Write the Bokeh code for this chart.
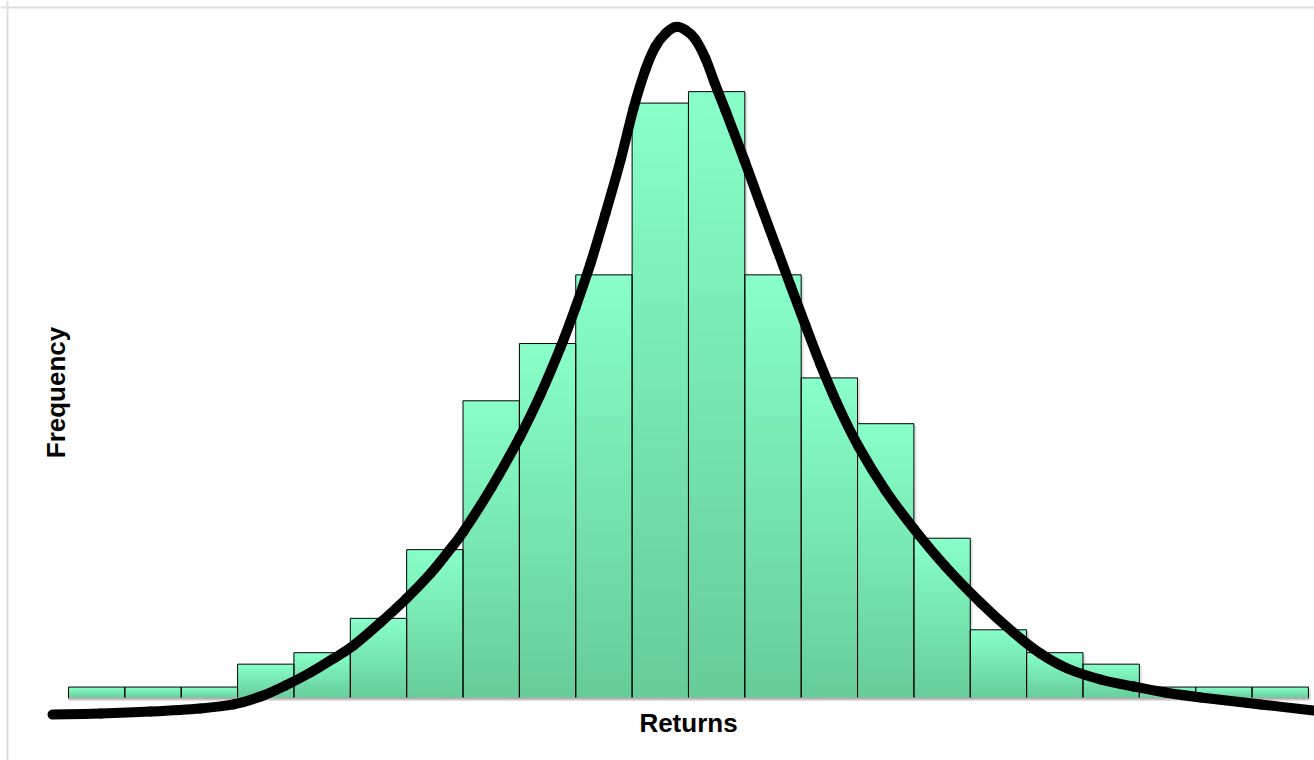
import numpy as np
from bokeh.plotting import figure
from bokeh.models import Range1d, Label, Span
from bokeh.embed import file_html
from bokeh.resources import INLINE

# ---- data ----
bin_edges = list(range(0, 23))            # 22 return bins (index units)
counts = [1, 1, 1, 3, 4, 7, 13, 26, 31, 37, 52, 53, 37, 28, 24, 14, 6, 4, 3, 1, 1, 1]

curve_x = [-0.284, 0.568, 1.455, 2.342, 2.928, 3.407, 3.850, 4.294, 4.702, 5.057, 5.536,
           5.997, 6.423, 6.725, 7.009, 7.505, 8.002, 8.375, 8.730, 8.996, 9.262, 9.528,
           9.794, 10.025, 10.238, 10.415, 10.593, 10.770, 10.947, 11.125, 11.302, 11.462,
           11.657, 11.994, 12.278, 12.580, 12.811, 13.077, 13.343, 13.662, 14.017, 14.496,
           15.011, 15.561, 16.182, 16.767, 17.246, 17.725, 18.311, 18.897, 19.464, 20.085,
           21.150, 22.090]
curve_y = [-1.40, -1.31, -1.14, -0.87, -0.52, 0.17, 1.14, 2.27, 3.49, 4.63, 6.64,
           8.73, 10.92, 12.75, 14.59, 18.43, 22.79, 26.55, 30.66, 34.15, 37.99, 42.36,
           46.99, 51.53, 54.93, 56.94, 58.08, 58.65, 58.38, 57.55, 55.90, 53.80,
           51.35, 46.99, 43.14, 39.13, 36.07, 32.58, 29.17, 25.50, 22.01, 18.17,
           14.76, 11.53, 8.38, 5.76, 3.93, 2.62, 1.66, 1.05, 0.52, 0.09,
           -0.52, -1.05]

x_title = "Returns"
y_title = "Frequency"

TOP = np.array([0x88, 0xFF, 0xC8])
BOT = np.array([0x66, 0xCC, 0x99])

W, H = 1314, 760
p = figure(width=W, height=H, output_backend="svg", toolbar_location=None,
           x_range=Range1d(-1.2065, 22.108), y_range=Range1d(-5.415, 60.96),
           min_border_left=0, min_border_right=0, min_border_top=0, min_border_bottom=0)
p.xaxis.visible = False
p.yaxis.visible = False
p.xgrid.visible = False
p.ygrid.visible = False
p.outline_line_color = None
p.background_fill_color = "white"
p.border_fill_color = "white"

# chart border (left and top edges visible in the window)
p.add_layout(Span(location=-1.0823, dimension="height", line_color="#dddddd", line_width=2))
p.add_layout(Span(location=60.35, dimension="width", line_color="#dddddd", line_width=2))

edges_l = np.array(bin_edges[:-1], dtype=float)
edges_r = np.array(bin_edges[1:], dtype=float)
hts = np.array(counts, dtype=float)

# soft drop shadow of the bars
p.quad(left=edges_l + 0.045, right=edges_r + 0.045, top=hts - 0.15, bottom=np.full(len(hts), -0.15),
       fill_color="#bdbdbd", fill_alpha=0.45, line_color=None)

# gradient bars built from nested strips (each drawn from its top down to 0)
n = 48
L, R, T, B, C = [], [], [], [], []
for k in range(n):
    t0 = k / n
    col = TOP + (BOT - TOP) * (t0 + 0.5 / n)
    hexcol = "#%02x%02x%02x" % tuple(int(round(v)) for v in col)
    for i, h in enumerate(counts):
        L.append(bin_edges[i]); R.append(bin_edges[i + 1])
        T.append(h * (1 - t0)); B.append(0)
        C.append(hexcol)
p.quad(left=L, right=R, top=T, bottom=B, fill_color=C, line_color=None)
p.quad(left=edges_l, right=edges_r, top=hts, bottom=np.zeros(len(hts)),
       fill_color=None, line_color="black", line_width=1)

# baseline
p.segment(x0=[0], y0=[-0.13], x1=[22], y1=[-0.13], line_color="#e0e0e0", line_width=2)
p.segment(x0=[0], y0=[0], x1=[22], y1=[0], line_color="#b0b0b0", line_width=2)

# fitted curve, drawn as smooth cubic Bezier pieces through the read points
cx = np.array(curve_x); cy = np.array(curve_y)
px_ = np.concatenate([[cx[0]], cx, [cx[-1]]])
py_ = np.concatenate([[cy[0]], cy, [cy[-1]]])
m = len(cx) - 1
x0 = cx[:-1]; y0 = cy[:-1]; x1 = cx[1:]; y1 = cy[1:]
c0x = px_[1:m + 1] + (px_[2:m + 2] - px_[0:m]) / 6
c0y = py_[1:m + 1] + (py_[2:m + 2] - py_[0:m]) / 6
c1x = px_[2:m + 2] - (px_[3:m + 3] - px_[1:m + 1]) / 6
c1y = py_[2:m + 2] - (py_[3:m + 3] - py_[1:m + 1]) / 6
p.bezier(x0=x0, y0=y0, x1=x1, y1=y1, cx0=c0x, cy0=c0y, cx1=c1x, cy1=c1y,
         line_color="black", line_width=10, line_cap="round")

# axis titles
p.add_layout(Label(x=688, y=38, x_units="screen", y_units="screen", text=x_title,
                   text_font="Liberation Sans", text_font_style="bold", text_font_size="26px",
                   text_align="center", text_baseline="middle", text_color="black"))
p.add_layout(Label(x=55, y=368, x_units="screen", y_units="screen", text=y_title, angle=np.pi / 2,
                   text_font="Liberation Sans", text_font_style="bold", text_font_size="26px",
                   text_align="center", text_baseline="middle", text_color="black"))

open("out.html", "w").write(file_html(p, INLINE))
